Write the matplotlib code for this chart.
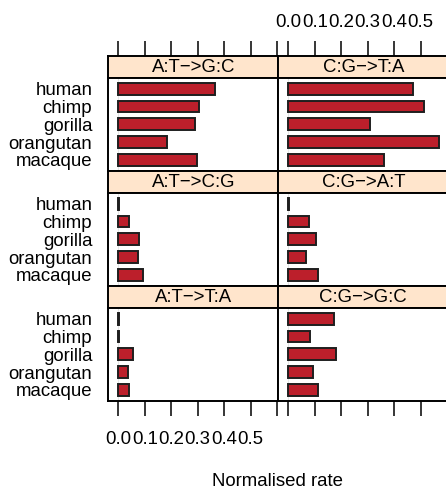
import matplotlib
matplotlib.use("Agg")
import matplotlib.pyplot as plt
import numpy as np

plt.rcParams['font.family'] = ['Liberation Sans', 'DejaVu Sans']

species = ['human', 'chimp', 'gorilla', 'orangutan', 'macaque']
mutations = ['A:T\u2212>G:C', 'C:G\u2212>T:A',
             'A:T\u2212>C:G', 'C:G\u2212>A:T',
             'A:T\u2212>T:A', 'C:G\u2212>G:C']

# normalised rate per species, one list per mutation type
at_gc = [0.366, 0.305, 0.289, 0.183, 0.296]
cg_ta = [0.471, 0.512, 0.309, 0.568, 0.363]
at_cg = [0.003, 0.042, 0.079, 0.073, 0.095]
cg_at = [0.003, 0.078, 0.106, 0.068, 0.113]
at_ta = [0.003, 0.003, 0.057, 0.035, 0.039]
cg_gc = [0.171, 0.082, 0.182, 0.095, 0.113]
rates = [at_gc, cg_ta, at_cg, cg_at, at_ta, cg_gc]

tick_vals = [0.0, 0.1, 0.2, 0.3, 0.4, 0.5, 0.6]
tick_labels = ['0.0', '0.1', '0.2', '0.3', '0.4', '0.5', '']

W, H = 446, 493
fig = plt.figure(figsize=(W / 100, H / 100), dpi=100)

FS = 13.4
col_x = [108.3, 278.3]
col_w = 170
row_top = [55.5, 170.5, 285.5]
strip_h = 22.5
panel_h = 92.5
px_per_unit = 264.5
xlim = (-10 / px_per_unit, (col_w - 10) / px_per_unit)

def box(x, y, w, h):
    return [x / W, 1 - (y + h) / H, w / W, h / H]

ypos = np.arange(len(species))[::-1] + 1

for i, (name, vals) in enumerate(zip(mutations, rates)):
    r, c = divmod(i, 2)
    x = col_x[c]
    y = row_top[r]

    strip = fig.add_axes(box(x, y, col_w, strip_h))
    strip.set_facecolor('#FFE5CC')
    strip.set_xlim(xlim)
    strip.set_ylim(0, 1)
    strip.text(0.5, 0.48, name, transform=strip.transAxes, ha='center',
               va='center', fontsize=FS)
    strip.set_yticks([])
    for s in strip.spines.values():
        s.set_linewidth(1.4)
    if c == 1:
        # right border falls just past the edge of the figure
        strip.spines['right'].set_visible(False)
    if r == 0:
        strip.xaxis.set_ticks_position('top')
        strip.set_xticks(tick_vals)
        strip.tick_params(axis='x', direction='out', length=10.8, width=1.1,
                          pad=7, labelsize=FS)
        if c == 1:
            strip.set_xticklabels(tick_labels)
        else:
            strip.set_xticklabels([])
    else:
        strip.set_xticks([])

    ax = fig.add_axes(box(x, y + strip_h, col_w, panel_h))
    ax.axvline(0, color='#E6E6E6', lw=0.8, zorder=0)
    ax.barh(ypos, vals, height=2 / 3, color='#BC1F2B', edgecolor='#1E1E1E',
            linewidth=1.4, zorder=2)
    ax.set_xlim(xlim)
    ax.set_ylim(0.4, 5.6)
    for s in ax.spines.values():
        s.set_linewidth(1.4)
    if c == 1:
        ax.spines['right'].set_visible(False)
    if c == 0:
        ax.set_yticks(ypos)
        ax.set_yticklabels(species)
        ax.tick_params(axis='y', length=0, pad=11.5, labelsize=FS)
    else:
        ax.set_yticks([])
    if r == 2:
        ax.set_xticks(tick_vals)
        ax.tick_params(axis='x', direction='out', length=10.8, width=1.1,
                       pad=11, labelsize=FS)
        if c == 0:
            ax.set_xticklabels(tick_labels)
        else:
            ax.set_xticklabels([])
    else:
        ax.set_xticks([])

fig.text(277 / W, 1 - 482 / H, 'Normalised rate', ha='center', va='center',
         fontsize=FS)

fig.savefig('out.png', dpi=100)
